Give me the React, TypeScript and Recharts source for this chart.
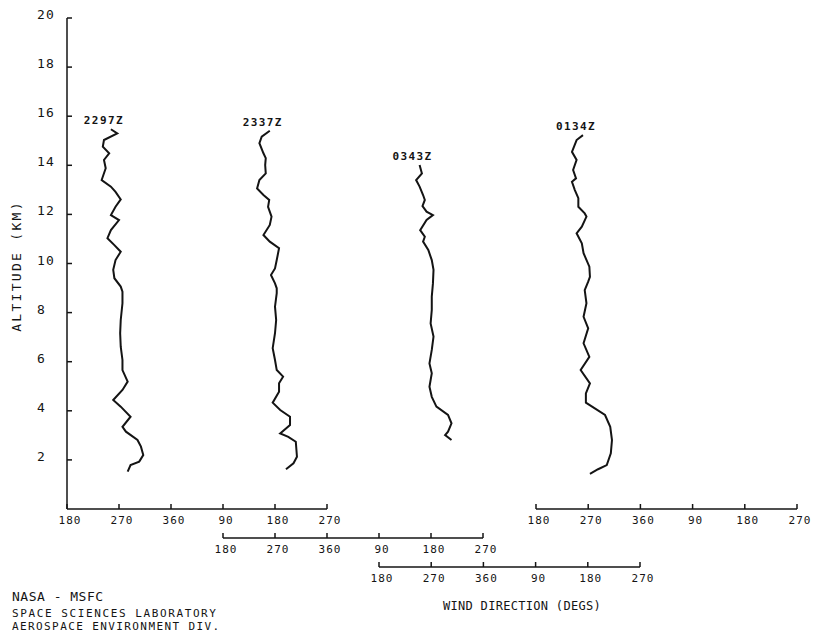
import React from 'react';
import { LineChart, Line, XAxis, YAxis } from 'recharts';

const W = 823;
const H = 632;
const TOP = 18; // pixel row of 20 km
const GROUND = 509; // pixel row of 0 km (first axis row)
const KM_PX = (GROUND - TOP) / 20;
const AXIS_H = 30;
const AXIS_W = 30;
const FONT = '"DejaVu Sans Mono", "Liberation Mono", monospace';
const INK = '#141414';

// wind direction ticks, unwrapped (450 = 90, 540 = 180 ...)
const dirTicks = [180, 270, 360, 450, 540, 630];
const altTicks = [2, 4, 6, 8, 10, 12, 14, 16, 18, 20];

// [altitude km, direction deg]
const p2297: [number, number][] = [
  [15.47, 256], [15.3, 267], [15.03, 244], [14.76, 242], [14.49, 253], [14.22, 244],
  [13.88, 247], [13.4, 240], [13.13, 256], [12.92, 264], [12.61, 273], [12.31, 264],
  [11.97, 256], [11.77, 270], [11.36, 256], [11.03, 250], [10.75, 262], [10.48, 273],
  [10.14, 264], [9.74, 260], [9.4, 262], [9.06, 273], [8.85, 276], [8.38, 276],
  [7.7, 273], [7.16, 272], [6.61, 273], [6.07, 276], [5.66, 276], [5.19, 285],
  [4.85, 276], [4.44, 260], [4.17, 273], [3.76, 290], [3.35, 276], [3.15, 282],
  [2.81, 302], [2.54, 308], [2.2, 312], [1.93, 305], [1.79, 290], [1.52, 285],
];

const p2337: [number, number][] = [
  [15.41, 261], [15.17, 247], [14.9, 243], [14.49, 250], [14.29, 254], [14.01, 253],
  [13.67, 254], [13.4, 243], [13.06, 239], [12.79, 250], [12.59, 260], [12.31, 258],
  [11.91, 264], [11.57, 261], [11.16, 250], [10.89, 261], [10.62, 277], [10.14, 273],
  [9.8, 270], [9.53, 263], [9.19, 270], [8.99, 273], [8.79, 273], [8.24, 270],
  [7.7, 272], [7.16, 270], [6.55, 266], [6.07, 270], [5.66, 273], [5.39, 284],
  [5.12, 277], [4.78, 277], [4.33, 266], [4.03, 279], [3.76, 296], [3.42, 296],
  [3.08, 279], [2.94, 293], [2.74, 306], [2.13, 308], [1.86, 302], [1.62, 289],
];

const p0343: [number, number][] = [
  [14.01, 250], [13.67, 254], [13.4, 244], [13.13, 250], [12.79, 256], [12.59, 259],
  [12.34, 255], [12.11, 262], [11.97, 273], [11.77, 262], [11.36, 251], [11.09, 259],
  [10.89, 256], [10.55, 265], [10.14, 271], [9.74, 274], [9.19, 273], [8.65, 271],
  [8.11, 271], [7.56, 269], [7.02, 274], [6.48, 271], [5.93, 267], [5.53, 271],
  [4.98, 267], [4.57, 271], [4.17, 279], [3.83, 299], [3.49, 305], [3.15, 299],
  [3.01, 294], [2.81, 305],
];

const p0134: [number, number][] = [
  [15.23, 261], [15.03, 250], [14.55, 242], [14.22, 250], [13.81, 244], [13.47, 249],
  [13.33, 242], [12.99, 247], [12.66, 253], [12.31, 253], [12.04, 264], [11.91, 267],
  [11.5, 259], [11.23, 250], [10.82, 259], [10.42, 262], [9.87, 272], [9.46, 273],
  [9.26, 270], [8.92, 264], [8.38, 267], [7.83, 262], [7.36, 270], [6.75, 262],
  [6.2, 272], [5.66, 257], [5.12, 273], [4.71, 266], [4.33, 266], [3.83, 299],
  [3.35, 308], [2.81, 311], [2.27, 309], [1.79, 302], [1.62, 287], [1.43, 273],
];

// each sounding gets its own direction axis; left/right/base are pixel positions
const panels = [
  { name: '2297Z', rows: p2297, left: 67, right: 327, base: GROUND, yAxis: true },
  { name: '2337Z', rows: p2337, left: 223, right: 483, base: 538, yAxis: false },
  { name: '0343Z', rows: p0343, left: 379, right: 640, base: 567, yAxis: false },
  { name: '0134Z', rows: p0134, left: 536, right: 797, base: GROUND, yAxis: false },
];

const fmtDir = (v: number) => String(v > 360 ? v - 360 : v);

const DirTick = (props: any) => {
  const { x, y, payload } = props;
  return (
    <g>
      <line x1={x} x2={x} y1={y} y2={y - 5} stroke={INK} strokeWidth={1.5} />
      <text x={x + 3} y={y + 15} textAnchor="middle" fontFamily={FONT} fontSize={11} letterSpacing={1} fill={INK}>
        {fmtDir(payload.value)}
      </text>
    </g>
  );
};

const AltTick = (props: any) => {
  const { x, y, payload } = props;
  return (
    <g>
      <line x1={x} x2={x + 5} y1={y} y2={y} stroke={INK} strokeWidth={1.5} />
      <text x={37} y={y + 1} textAnchor="start" fontFamily={FONT} fontSize={13} letterSpacing={1.2} fill={INK}>
        {payload.value}
      </text>
    </g>
  );
};

function Sounding({ p }: { p: (typeof panels)[number] }) {
  const data = p.rows.map(([alt, dir]) => ({ alt, dir }));
  const yMin = -(p.base - GROUND) / KM_PX;
  return (
    <div style={{ position: 'absolute', left: 0, top: 0, pointerEvents: 'none' }}>
      <LineChart
        width={W}
        height={H}
        margin={{
          top: TOP,
          left: p.yAxis ? p.left - AXIS_W : p.left,
          right: W - p.right,
          bottom: H - p.base - AXIS_H,
        }}
      >
        <XAxis
          type="number"
          dataKey="dir"
          domain={[180, 630]}
          ticks={dirTicks}
          allowDataOverflow
          height={AXIS_H}
          tickSize={0}
          tickMargin={0}
          tickLine={false}
          tick={<DirTick />}
          axisLine={{ stroke: INK, strokeWidth: 1.5 }}
          interval={0}
        />
        <YAxis
          type="number"
          dataKey="alt"
          domain={[yMin, 20]}
          ticks={altTicks}
          allowDataOverflow
          width={AXIS_W}
          hide={!p.yAxis}
          tickSize={0}
          tickMargin={0}
          tickLine={false}
          tick={<AltTick />}
          axisLine={{ stroke: INK, strokeWidth: 1.5 }}
          interval={0}
        />
        <Line
          type="linear"
          data={data}
          dataKey="alt"
          stroke={INK}
          strokeWidth={2}
          dot={false}
          isAnimationActive={false}
          label={(lp: any) =>
            lp.index === 0 ? (
              <text
                key="name"
                x={lp.x - 7}
                y={lp.y - 5}
                textAnchor="middle"
                fontFamily={FONT}
                fontSize={11}
                fontWeight="bold"
                letterSpacing={1.4}
                fill={INK}
              >
                {p.name}
              </text>
            ) : (
              <g key={`e${lp.index}`} />
            )
          }
        />
      </LineChart>
    </div>
  );
}

export default function App() {
  return (
    <div style={{ position: 'absolute', left: 0, top: 0, width: W, height: H, background: '#fff' }}>
      {panels.map((p) => (
        <Sounding key={p.name} p={p} />
      ))}
      <svg width={W} height={H} style={{ position: 'absolute', left: 0, top: 0, pointerEvents: 'none' }}>
        <text
          x={21}
          y={266}
          transform="rotate(-90 21 266)"
          textAnchor="middle"
          fontFamily={FONT}
          fontSize={13}
          letterSpacing={2.3}
          fill={INK}
        >
          ALTITUDE (KM)
        </text>
        <text x={443} y={610} fontFamily={FONT} fontSize={12} letterSpacing={0.3} fill={INK}>
          WIND DIRECTION (DEGS)
        </text>
        <text x={12} y={601} fontFamily={FONT} fontSize={13} letterSpacing={0.5} fill={INK}>
          NASA - MSFC
        </text>
        <text x={12} y={617} fontFamily={FONT} fontSize={11} letterSpacing={1.6} fill={INK}>
          SPACE SCIENCES LABORATORY
        </text>
        <text x={12} y={630} fontFamily={FONT} fontSize={11} letterSpacing={1.4} fill={INK}>
          AEROSPACE ENVIRONMENT DIV.
        </text>
      </svg>
    </div>
  );
}
